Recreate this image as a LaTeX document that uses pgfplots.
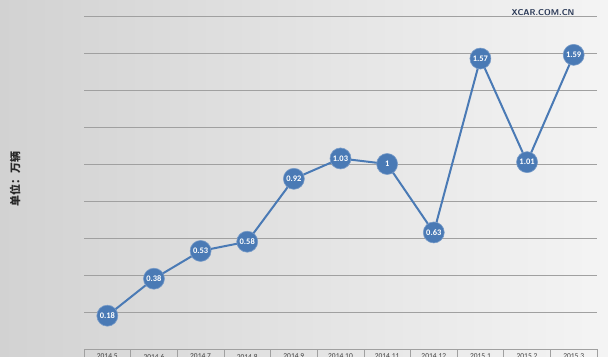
\documentclass[border=0pt]{standalone}
\usepackage{pgfplots}
\pgfplotsset{compat=1.18}
\usepackage{fontspec}
\setmainfont{Carlito}
\newfontfamily\cjk{Noto Sans CJK SC}
\definecolor{ser}{RGB}{74,122,181}
\definecolor{gridc}{RGB}{160,160,160}
\begin{document}
\begin{tikzpicture}[x=1bp,y=1bp]
\useasboundingbox (0,0) rectangle (608,356);
\clip (0,0) rectangle (608,356);
\shade[left color={rgb,255:red,210;green,210;blue,210}, right color={rgb,255:red,244;green,244;blue,244}] (0,0) rectangle (608,356);
\node[font=\sffamily\bfseries\fontsize{8.5}{9}\selectfont, text={rgb,255:red,40;green,55;blue,85}] at (543,343) {XCAR.COM.CN};
\begin{axis}[
  at={(84bp,7bp)}, anchor=south west,
  scale only axis, width=513bp, height=333bp,
  xmin=-0.5, xmax=10.5, ymin=0, ymax=1.8,
  axis line style={draw=none},
  ytick={0,0.2,...,1.8}, yticklabels={}, ytick style={draw=none},
  ymajorgrids, grid style={gridc, line width=0.8bp},
  xtick={0,...,10},
  xticklabels={2014.5,2014.6,2014.7,2014.8,2014.9,2014.10,2014.11,2014.12,2015.1,2015.2,2015.3},
  major x tick style={draw=none},
  minor xtick={-0.5,0.5,...,10.5},
  minor tick length=10bp, tick align=outside, xtick pos=bottom,
  minor x tick style={gridc, line width=0.6bp},
  x tick label style={font=\fontsize{7.5}{8}\selectfont, text={rgb,255:red,60;green,60;blue,60}, anchor=north, inner sep=1bp, yshift=0.5bp},
  ylabel={\cjk\bfseries 单位：万辆},
  every axis y label/.style={at={(axis description cs:0,0.51)}, rotate=90, anchor=center, yshift=69bp, font=\fontsize{11}{12}\selectfont, text={rgb,255:red,40;green,40;blue,40}},
  nodes near coords, point meta=explicit symbolic,
  every node near coord/.append style={anchor=center, font=\bfseries\fontsize{8.5}{9}\selectfont, text=white},
  clip=false,
]
\addplot[ser, line width=2bp, mark=*, mark size=10.5bp, mark options={fill=ser, draw={rgb,255:red,120;green,155;blue,200}, line width=0.6bp}] coordinates {
(0,0.18) [0.18]
(1,0.38) [0.38]
(2,0.53) [0.53]
(3,0.58) [0.58]
(4,0.92) [0.92]
(5,1.03) [1.03]
(6,1.00) [1]
(7,0.63) [0.63]
(8,1.57) [1.57]
(9,1.01) [1.01]
(10,1.59) [1.59]
};
\end{axis}
\end{tikzpicture}
\end{document}
